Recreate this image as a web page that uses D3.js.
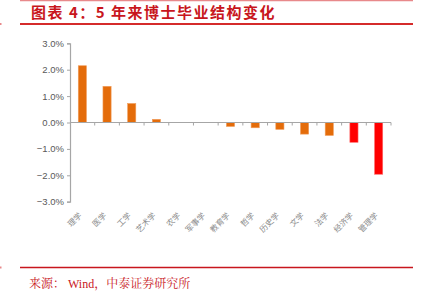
<!DOCTYPE html>
<html>
<head>
<meta charset="utf-8">
<script src="https://cdn.jsdelivr.net/npm/d3@7"></script>
<style>
  body { margin: 0; background: #fff; }
  svg { display: block; }
</style>
</head>
<body>
<svg id="chart" width="423" height="294"></svg>
<script>
// categories and values (% change over 5 years)
var categories = ["理学", "医学", "工学", "艺术学", "农学", "军事学", "教育学", "哲学", "历史学", "文学", "法学", "经济学", "管理学"];
var values = [2.15, 1.37, 0.72, 0.12, 0.0, 0.0, -0.15, -0.2, -0.26, -0.44, -0.49, -0.75, -1.96];
var redCats = ["经济学", "管理学"];
var yTicks = [-3, -2, -1, 0, 1, 2, 3];

var svg = d3.select("#chart");

// frame lines
svg.append("line").attr("x1", 20).attr("x2", 413).attr("y1", 0.5).attr("y2", 0.5)
    .attr("stroke", "#e8898b").attr("stroke-width", 1.5);
svg.append("line").attr("x1", 20).attr("x2", 413).attr("y1", 24).attr("y2", 24)
    .attr("stroke", "#d52b2b").attr("stroke-width", 2);
svg.append("line").attr("x1", 20).attr("x2", 413).attr("y1", 267.5).attr("y2", 267.5)
    .attr("stroke", "#c8161d").attr("stroke-width", 1.5);
svg.append("rect").attr("x", 0).attr("y", 23).attr("width", 1.5).attr("height", 2).attr("fill", "#e8898b");
svg.append("rect").attr("x", 0).attr("y", 266.5).attr("width", 1.5).attr("height", 2).attr("fill", "#e8898b");

// title
svg.append("text").attr("x", 31).attr("y", 18)
    .attr("fill", "#c8161d").attr("font-size", "15px").attr("font-weight", "bold")
    .attr("font-family", "'Noto Sans CJK SC', sans-serif")
    .attr("letter-spacing", "1.5px")
    .text("图表 4：5 年来博士毕业结构变化");

// source
svg.append("text").attr("x", 29).attr("y", 288)
    .attr("fill", "#c8161d").attr("font-size", "12px")
    .attr("font-family", "'Liberation Serif', 'Noto Serif CJK SC', serif")
    .text("来源：   Wind，中泰证券研究所");

// scales
var x = d3.scaleBand().domain(categories).range([70, 391]).paddingInner(0.67).paddingOuter(0.335);
var y = d3.scaleLinear().domain([-3, 3]).range([201.7, 43.3]);

var g = svg.append("g");

// bars
g.selectAll("rect.bar").data(categories).enter().append("rect")
    .attr("class", "bar")
    .attr("x", function(d){ return x(d); })
    .attr("width", x.bandwidth())
    .attr("y", function(d, i){ return y(Math.max(0, values[i])); })
    .attr("height", function(d, i){ return Math.abs(y(values[i]) - y(0)); })
    .attr("fill", function(d){ return redCats.indexOf(d) >= 0 ? "#ff0000" : "#e46c0a"; })
    .attr("stroke", function(d){ return redCats.indexOf(d) >= 0 ? "#ff6a6a" : "#f19c5a"; })
    .attr("stroke-width", 0.6);

// y axis
var yAxis = d3.axisLeft(y).tickValues(yTicks).tickSize(3)
    .tickFormat(function(d){ return d3.format(".1f")(d) + "%"; });
var ya = g.append("g").attr("transform", "translate(70,0)").call(yAxis);
ya.select(".domain").attr("stroke", "#a6a6a6").attr("stroke-width", 1.2);
ya.selectAll(".tick line").attr("stroke", "#a6a6a6");
ya.selectAll(".tick text").attr("fill", "#595959").attr("font-size", "9.5px")
    .attr("font-family", "'Liberation Sans', Arial, sans-serif").attr("x", -6);

// x axis line at zero with ticks between categories
var step = x.step();
var xa = g.append("g");
xa.append("line").attr("x1", 70).attr("x2", 391).attr("y1", y(0)).attr("y2", y(0))
    .attr("stroke", "#a6a6a6").attr("stroke-width", 1.2);
xa.selectAll("line.tk").data(d3.range(1, categories.length + 1)).enter().append("line")
    .attr("class", "tk")
    .attr("x1", function(i){ return 70 + i * step; })
    .attr("x2", function(i){ return 70 + i * step; })
    .attr("y1", y(0)).attr("y2", y(0) + 3)
    .attr("stroke", "#a6a6a6");

// category labels, rotated
g.selectAll("text.cat").data(categories).enter().append("text")
    .attr("class", "cat")
    .attr("transform", function(d){
        return "translate(" + (x(d) + x.bandwidth() / 2) + ",216) rotate(-45)";
    })
    .attr("text-anchor", "end")
    .attr("fill", "#8c8c8c")
    .attr("font-size", "8px")
    .attr("font-family", "'Noto Sans CJK SC', sans-serif")
    .text(function(d){ return d; });
</script>
</body>
</html>
